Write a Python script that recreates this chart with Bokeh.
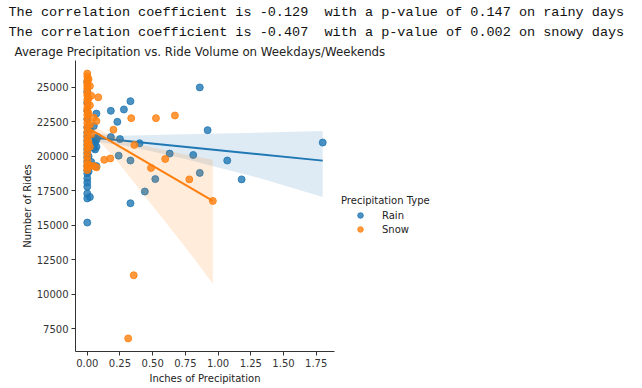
from bokeh.plotting import figure
from bokeh.models import (Title, Legend, LegendItem, FixedTicker, Range1d,
                          NumeralTickFormatter)
from bokeh.embed import file_html
from bokeh.resources import INLINE

# ---------------- data ----------------
rain_precip = ([0.0] * 23 + [0.01] * 3 + [0.02] * 2 + [0.03] * 2 + [0.05] * 2 +
               [0.06] * 3 + [0.07] * 4 + [0.08] +
               [0.18, 0.28, 0.33, 0.23, 0.18, 0.25, 0.40, 0.24, 0.33, 0.63, 0.81,
                0.86, 0.92, 1.07, 0.52, 0.86, 1.18, 0.44, 0.33, 1.80])
rain_rides = ([25400, 24700, 23900, 23300, 22700, 22100, 21700, 21400, 21100, 20800,
               20500, 20200, 19900, 19600, 19300, 19000, 18750, 18400, 18100, 17800,
               17300, 16950, 15200,
               20000, 19200, 18900,
               17050, 21900,
               19600, 20900,
               22200, 20600,
               21300, 20500, 21000,
               23100, 21200, 20700, 19300,
               21400] +
              [23300, 23400, 24000, 22500, 21400, 21250, 20950, 20050, 19700, 20200,
               20100, 25000, 21900, 19700, 18350, 18800, 18330, 17450, 16600, 21000])

snow_precip = ([0.0] * 27 + [0.01] * 5 + [0.02] * 5 + [0.03] * 2 + [0.05] * 2 +
               [0.07] * 2 + [0.084] +
               [0.13, 0.176, 0.20, 0.336, 0.525, 0.67, 0.36, 0.596, 0.487, 0.78,
                0.96, 0.355, 0.313])
snow_rides = ([26000, 25800, 25500, 25300, 25100, 24900, 24600, 24400, 24100, 23800,
               23500, 23300, 23000, 22700, 22400, 22100, 21800, 21500, 21200, 20900,
               20600, 20300, 20000, 19700, 19400, 19200, 19000,
               25600, 24200, 23100, 21000, 19400,
               25100, 23700, 22300, 20700, 19300,
               24400, 21600,
               19300, 22800,
               22560, 19200,
               24280] +
              [19750, 19850, 21930, 22770, 22770, 22960, 20830, 19810, 19160, 18330,
               16770, 11380, 6800])

# fitted lines and confidence bands
rain_fit_x = [0.0, 1.80]
rain_fit_y = [21400, 19690]
rain_band_x = [0.0, 0.25, 0.5, 0.75, 1.0, 1.25, 1.5, 1.8]
rain_band_hi = [21700, 21500, 21550, 21600, 21650, 21700, 21770, 21830]
rain_band_lo = [21100, 20850, 20350, 19800, 19200, 18600, 17900, 17060]

snow_fit_x = [0.0, 0.96]
snow_fit_y = [22080, 16770]
snow_band_x = [0.0, 0.1, 0.2, 0.3, 0.4, 0.5, 0.6, 0.7, 0.8, 0.96]
snow_band_hi = [22450, 21900, 21450, 21100, 20850, 20650, 20450, 20250, 20050, 19760]
snow_band_lo = [21700, 21000, 20000, 18800, 17600, 16400, 15200, 14000, 12800, 10740]

x_ticks = [0.0, 0.25, 0.5, 0.75, 1.0, 1.25, 1.5, 1.75]
y_ticks = [7500, 10000, 12500, 15000, 17500, 20000, 22500, 25000]

NBSP = "\u00a0"
header_lines = [
    "The correlation coefficient is -0.129" + NBSP + " with a p-value of 0.147 on rainy days",
    "The correlation coefficient is -0.407" + NBSP + " with a p-value of 0.002 on snowy days",
]
chart_title = "Average Precipitation vs. Ride Volume on Weekdays/Weekends"
legend_title = "Precipitation Type"
series_names = ["Rain", "Snow"]

BLUE = "#1f77b4"
ORANGE = "#ff7f0e"
FONT = "DejaVu Sans"
MONO = "Liberation Mono"

# ---------------- figure ----------------
p = figure(frame_width=259, frame_height=291,
           x_range=Range1d(-0.09, 1.89), y_range=Range1d(5850, 26950),
           output_backend="svg", toolbar_location=None,
           min_border_left=75, min_border_right=300, min_border_top=60,
           min_border_bottom=0, background_fill_color="white",
           border_fill_color="white")
p.outline_line_color = None
p.grid.visible = False

# titles (closest to the frame first)
t0 = Title(text=chart_title, align="left", offset=-61, text_font=FONT,
           text_font_size="11.8px", text_font_style="normal", text_color="#222222",
           standoff=4)
p.add_layout(t0, "above")
for line, so in zip(reversed(header_lines), (2, 3)):
    t = Title(text=line, align="left", offset=-67, text_font=MONO,
              text_font_size="13.5px", text_font_style="normal",
              text_color="#111111", standoff=so)
    p.add_layout(t, "above")

# rain
r_sc = p.scatter(rain_precip, rain_rides, size=7, color=BLUE, alpha=0.8,
                 line_alpha=0.8)
p.varea(x=rain_band_x, y1=rain_band_lo, y2=rain_band_hi, color=BLUE,
        fill_alpha=0.15)
p.line(rain_fit_x, rain_fit_y, line_color=BLUE, line_width=2)

# snow
s_sc = p.scatter(snow_precip, snow_rides, size=7, color=ORANGE, alpha=0.8,
                 line_alpha=0.8)
p.varea(x=snow_band_x, y1=snow_band_lo, y2=snow_band_hi, color=ORANGE,
        fill_alpha=0.15)
p.line(snow_fit_x, snow_fit_y, line_color=ORANGE, line_width=2)

# axes
for ax in (p.xaxis[0], p.yaxis[0]):
    ax.axis_line_color = "#333333"
    ax.major_tick_line_color = "#333333"
    ax.minor_tick_line_color = None
    ax.major_tick_out = 4
    ax.major_tick_in = 0
    ax.major_label_text_font = FONT
    ax.major_label_text_font_size = "10px"
    ax.major_label_text_color = "#333333"
    ax.axis_label_text_font = FONT
    ax.axis_label_text_font_size = "10px"
    ax.axis_label_text_font_style = "normal"
    ax.axis_label_text_color = "#222222"
    ax.major_label_standoff = 3

p.xaxis.ticker = FixedTicker(ticks=x_ticks)
p.xaxis.formatter = NumeralTickFormatter(format="0.00")
p.xaxis.axis_label = "Inches of Precipitation"
p.xaxis.axis_label_standoff = 3
p.yaxis.ticker = FixedTicker(ticks=y_ticks)
p.yaxis.formatter = NumeralTickFormatter(format="0")
p.yaxis.axis_label = "Number of Rides"
p.yaxis.axis_label_standoff = 1

legend = Legend(items=[LegendItem(label=series_names[0], renderers=[r_sc]),
                       LegendItem(label=series_names[1], renderers=[s_sc])],
                title=legend_title, location=(7, 115),
                title_text_font=FONT, title_text_font_size="10px",
                title_text_font_style="normal", title_text_color="#222222",
                label_text_font=FONT, label_text_font_size="10px",
                label_text_color="#222222",
                border_line_color=None, background_fill_alpha=0,
                glyph_width=38, glyph_height=14, label_height=14,
                label_standoff=3, spacing=0, padding=0, margin=0,
                title_standoff=2)
p.add_layout(legend, "right")

open("out.html", "w").write(file_html(p, INLINE))
